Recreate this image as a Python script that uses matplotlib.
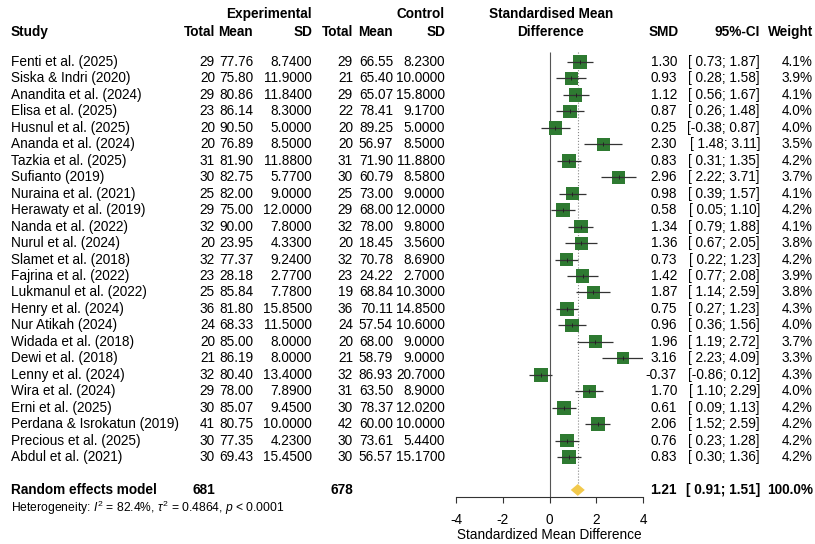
import matplotlib.pyplot as plt
import numpy as np

plt.rcParams['font.family'] = ['Liberation Sans', 'DejaVu Sans']
plt.rcParams['mathtext.fontset'] = 'custom'
plt.rcParams['mathtext.rm'] = 'Liberation Sans'
plt.rcParams['mathtext.it'] = 'Liberation Sans:italic'
plt.rcParams['axes.unicode_minus'] = False

studies = ['Fenti et al. (2025)', 'Siska & Indri (2020)', 'Anandita et al. (2024)', 'Elisa et al. (2025)',
           'Husnul et al. (2025)', 'Ananda et al. (2024)', 'Tazkia et al. (2025)', 'Sufianto (2019)',
           'Nuraina et al. (2021)', 'Herawaty et al. (2019)', 'Nanda et al. (2022)', 'Nurul et al. (2024)',
           'Slamet et al. (2018)', 'Fajrina et al. (2022)', 'Lukmanul et al. (2022)', 'Henry et al. (2024)',
           'Nur Atikah (2024)', 'Widada et al. (2018)', 'Dewi et al. (2018)', 'Lenny et al. (2024)',
           'Wira et al. (2024)', 'Erni et al. (2025)', 'Perdana & Isrokatun (2019)', 'Precious et al. (2025)',
           'Abdul et al. (2021)']
n_exp = [29, 20, 29, 23, 20, 20, 31, 30, 25, 29, 32, 20, 32, 23, 25, 36, 24, 20, 21, 32, 29, 30, 41, 30, 30]
mean_exp = [77.76, 75.80, 80.86, 86.14, 90.50, 76.89, 81.90, 82.75, 82.00, 75.00, 90.00, 23.95, 77.37,
            28.18, 85.84, 81.80, 68.33, 85.00, 86.19, 80.40, 78.00, 85.07, 80.75, 77.35, 69.43]
sd_exp = [8.74, 11.90, 11.84, 8.30, 5.00, 8.50, 11.88, 5.77, 9.00, 12.00, 7.80, 4.33, 9.24,
          2.77, 7.78, 15.85, 11.50, 8.00, 8.00, 13.40, 7.89, 9.45, 10.00, 4.23, 15.45]
n_ctl = [29, 21, 29, 22, 20, 20, 31, 30, 25, 29, 32, 20, 32, 23, 19, 36, 24, 20, 21, 32, 31, 30, 42, 30, 30]
mean_ctl = [66.55, 65.40, 65.07, 78.41, 89.25, 56.97, 71.90, 60.79, 73.00, 68.00, 78.00, 18.45, 70.78,
            24.22, 68.84, 70.11, 57.54, 68.00, 58.79, 86.93, 63.50, 78.37, 60.00, 73.61, 56.57]
sd_ctl = [8.23, 10.00, 15.80, 9.17, 5.00, 8.50, 11.88, 8.58, 9.00, 12.00, 9.80, 3.56, 8.69,
          2.70, 10.30, 14.85, 10.60, 9.00, 9.00, 20.70, 8.90, 12.02, 10.00, 5.44, 15.17]
smd = [1.30, 0.93, 1.12, 0.87, 0.25, 2.30, 0.83, 2.96, 0.98, 0.58, 1.34, 1.36, 0.73,
       1.42, 1.87, 0.75, 0.96, 1.96, 3.16, -0.37, 1.70, 0.61, 2.06, 0.76, 0.83]
ci_lo = [0.73, 0.28, 0.56, 0.26, -0.38, 1.48, 0.31, 2.22, 0.39, 0.05, 0.79, 0.67, 0.22,
         0.77, 1.14, 0.27, 0.36, 1.19, 2.23, -0.86, 1.10, 0.09, 1.52, 0.23, 0.30]
ci_hi = [1.87, 1.58, 1.67, 1.48, 0.87, 3.11, 1.35, 3.71, 1.57, 1.10, 1.88, 2.05, 1.23,
         2.08, 2.59, 1.23, 1.56, 2.72, 4.09, 0.12, 2.29, 1.13, 2.59, 1.28, 1.36]
weight = [4.1, 3.9, 4.1, 4.0, 4.0, 3.5, 4.2, 3.7, 4.1, 4.2, 4.1, 3.8, 4.2,
          3.9, 3.8, 4.3, 4.0, 3.7, 3.3, 4.3, 4.0, 4.2, 4.2, 4.2, 4.2]
re_est, re_lo, re_hi = 1.21, 0.91, 1.51
total_exp, total_ctl = 681, 678

W, H = 815, 544
row0, dy = 62, 16.46
def rowof(px):
    return (px - row0) / dy

fig = plt.figure(figsize=(W / 100, H / 100), dpi=100)
tab = fig.add_axes([0, 0, 1, 1])
tab.set_xlim(0, W)
tab.set_ylim(rowof(H), rowof(0))
tab.axis('off')

fs = 9.8
rows = np.arange(len(studies))
re_row = len(studies) + 1

# headers
hy1, hy2 = rowof(14), rowof(32)
tab.text(312, hy1, 'Experimental', ha='right', va='center', fontsize=fs, weight='bold')
tab.text(445, hy1, 'Control', ha='right', va='center', fontsize=fs, weight='bold')
tab.text(551, hy1, 'Standardised Mean', ha='center', va='center', fontsize=fs, weight='bold')
tab.text(551, hy2, 'Difference', ha='center', va='center', fontsize=fs, weight='bold')
tab.text(11, hy2, 'Study', ha='left', va='center', fontsize=fs, weight='bold')
for x, s in [(215, 'Total'), (253, 'Mean'), (312, 'SD'), (353, 'Total'), (393, 'Mean'), (445, 'SD'),
             (679, 'SMD'), (760, '95%-CI'), (813, 'Weight')]:
    tab.text(x, hy2, s, ha='right', va='center', fontsize=fs, weight='bold')

for i in rows:
    tab.text(11, i, studies[i], ha='left', va='center', fontsize=fs)
    tab.text(215, i, '%d' % n_exp[i], ha='right', va='center', fontsize=fs)
    tab.text(253, i, '%.2f' % mean_exp[i], ha='right', va='center', fontsize=fs)
    tab.text(312, i, '%.4f' % sd_exp[i], ha='right', va='center', fontsize=fs)
    tab.text(353, i, '%d' % n_ctl[i], ha='right', va='center', fontsize=fs)
    tab.text(393, i, '%.2f' % mean_ctl[i], ha='right', va='center', fontsize=fs)
    tab.text(445, i, '%.4f' % sd_ctl[i], ha='right', va='center', fontsize=fs)
    tab.text(677, i, '%.2f' % smd[i], ha='right', va='center', fontsize=fs)
    tab.text(760, i, '[%5.2f;%5.2f]' % (ci_lo[i], ci_hi[i]), ha='right', va='center', fontsize=fs)
    tab.text(813, i, '%.1f%%' % weight[i], ha='right', va='center', fontsize=fs)

tab.text(11, re_row, 'Random effects model', ha='left', va='center', fontsize=fs, weight='bold')
tab.text(215, re_row, '%d' % total_exp, ha='right', va='center', fontsize=fs, weight='bold')
tab.text(353, re_row, '%d' % total_ctl, ha='right', va='center', fontsize=fs, weight='bold')
tab.text(677, re_row, '%.2f' % re_est, ha='right', va='center', fontsize=fs, weight='bold')
tab.text(760, re_row, '[%5.2f;%5.2f]' % (re_lo, re_hi), ha='right', va='center', fontsize=fs, weight='bold')
tab.text(813, re_row, '100.0%', ha='right', va='center', fontsize=fs, weight='bold')
tab.text(11, re_row + 1.1, r'Heterogeneity: $I^2$ = 82.4%, $\tau^2$ = 0.4864, $p$ < 0.0001',
         ha='left', va='center', fontsize=8.7)

# forest panel
ax = fig.add_axes([456 / W, (H - 497) / H, (643 - 456) / W, 497 / H])
ax.patch.set_alpha(0)
ax.set_xlim(-4, 4)
ax.set_ylim(rowof(497), rowof(0))
for sp in ['top', 'left', 'right']:
    ax.spines[sp].set_visible(False)
ax.spines['bottom'].set_color('#333333')
ax.spines['bottom'].set_linewidth(0.8)
ax.set_yticks([])
ax.set_xticks([-4, -2, 0, 2, 4])
ax.tick_params(axis='x', direction='out', length=4.5, width=0.8, color='#333333', labelsize=fs, pad=7)
ax.set_xlabel('Standardized Mean Difference', fontsize=fs, labelpad=1)

ax.vlines(0, -0.6, rowof(497), color='#555555', lw=0.8)
ax.vlines(re_est, -0.6, re_row - 0.45, color='#888888', lw=0.8, linestyles=':')

side = 10.0 * np.sqrt(np.array(weight) / 4.3)
ax.scatter(smd, rows, marker='s', s=side ** 2, color='#2e7a31', linewidths=0, zorder=3, clip_on=False)
ax.hlines(rows, ci_lo, ci_hi, color='#333333', lw=0.9, zorder=4)
ax.plot(smd, rows, ls='none', marker='|', ms=3, mew=0.7, color='#222222', zorder=5)

h = 0.36
ax.fill([re_lo, re_est, re_hi, re_est], [re_row, re_row - h, re_row, re_row + h],
        color='#f2c94c', lw=0, zorder=3)

plt.savefig('out.png', dpi=100)
